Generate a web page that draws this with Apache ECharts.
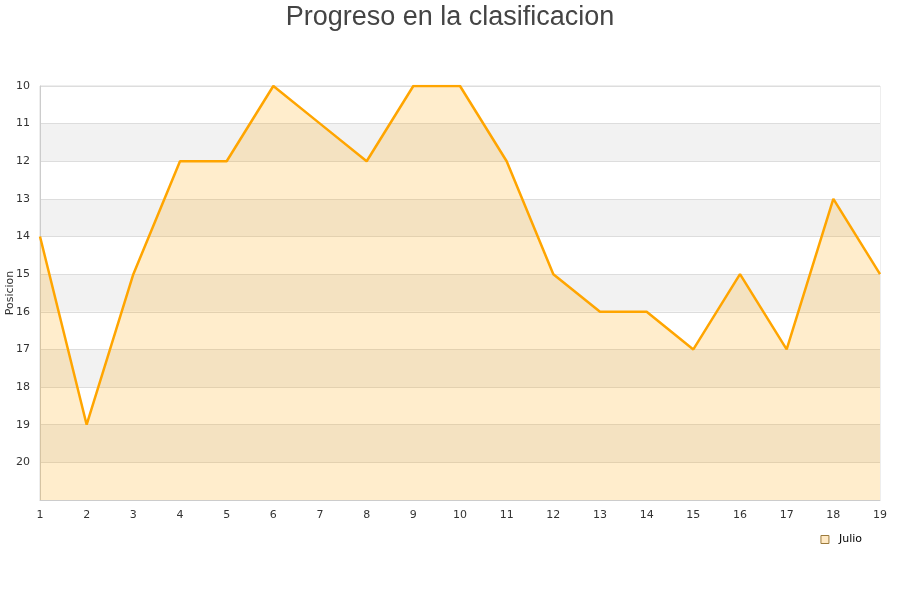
<!DOCTYPE html>
<html><head><meta charset="utf-8">
<script src="https://cdn.jsdelivr.net/npm/echarts@6/dist/echarts.min.js"></script>
<style>html,body{margin:0;padding:0;background:#fff}#c{width:900px;height:600px}</style>
</head><body><div id="c"></div>
<script>
const jornadas = ['1','2','3','4','5','6','7','8','9','10','11','12','13','14','15','16','17','18','19'];
const julio = [14,19,15,12,12,10,11,12,10,10,12,15,16,16,17,15,17,13,15];
const yTicks = [10,11,12,13,14,15,16,17,18,19,20];

const chart = echarts.init(document.getElementById('c'));
chart.setOption({
  animation: false,
  title: {text: 'Progreso en la clasificacion', left: 'center', top: -1,
    textStyle: {fontFamily: 'Liberation Sans, Arial, sans-serif', fontSize: 27, fontWeight: 'normal', color: '#444'}},
  legend: {data: [{name: 'Julio', icon: 'rect'}], right: 33, top: 529, itemWidth: 8, itemHeight: 8, itemGap: 6,
    textStyle: {fontFamily: 'DejaVu Sans', fontSize: 11, color: '#000', padding: [0, 0, 0, 5]},
    itemStyle: {color: '#FFE9C4', borderColor: '#9c7a3c', borderWidth: 1}},
  grid: {left: 40, right: 20, top: 86, bottom: 100, show: true, borderColor: '#ddd', borderWidth: 1,
    containLabel: false, outerBoundsMode: 'none'},
  xAxis: {type: 'category', data: jornadas, boundaryGap: false,
    axisLine: {lineStyle: {color: '#ccc'}}, axisTick: {show: false},
    axisLabel: {fontFamily: 'DejaVu Sans', fontSize: 11, color: '#333', margin: 10},
    splitLine: {show: false}},
  yAxis: {type: 'value', inverse: true, min: 10, max: 21, interval: 1,
    name: 'Posicion', nameLocation: 'middle', nameGap: 24, nameMoveOverlap: false,
    nameTextStyle: {fontFamily: 'DejaVu Sans', fontSize: 11, color: '#333'},
    axisLine: {show: true, lineStyle: {color: '#ccc'}}, axisTick: {show: false},
    axisLabel: {fontFamily: 'DejaVu Sans', fontSize: 11, color: '#333', margin: 10,
      formatter: v => yTicks.includes(v) ? String(v) : ''},
    splitLine: {show: true, lineStyle: {color: '#ddd'}},
    splitArea: {show: true, areaStyle: {color: ['#ffffff', '#f2f2f2']}}},
  series: [{name: 'Julio', type: 'line', data: julio, symbol: 'none',
    lineStyle: {color: '#FFA500', width: 2.5},
    itemStyle: {color: '#FFA500'},
    areaStyle: {color: 'rgba(255,165,0,0.2)', opacity: 1, origin: 'end'}}]
});
</script></body></html>
